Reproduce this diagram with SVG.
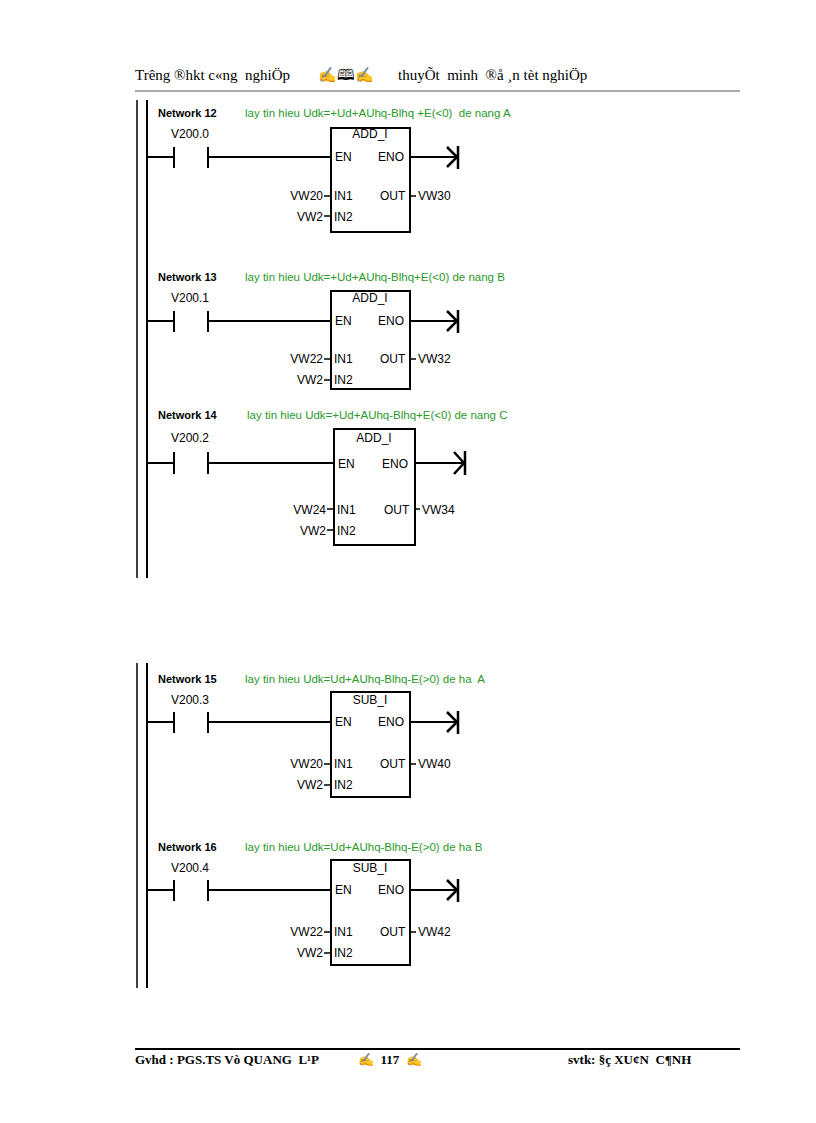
<svg xmlns="http://www.w3.org/2000/svg" width="816" height="1123" viewBox="0 0 816 1123">
<style>
.t{font-family:"Liberation Sans",Arial,sans-serif;font-size:12px;fill:#000}
.nw{font-family:"Liberation Sans",Arial,sans-serif;font-size:11px;font-weight:bold}
.cm{font-family:"Liberation Sans",Arial,sans-serif;font-size:11.5px;fill:#2a9a2a}
.hd{font-family:"Liberation Serif","Times New Roman",serif;font-size:15px}
.ft{font-family:"Liberation Serif","Times New Roman",serif;font-size:13px;font-weight:bold}
.w{stroke:#000;stroke-width:2;fill:none}
.a{stroke:#000;stroke-width:2.5;fill:none}
.b{stroke:#000;stroke-width:2;fill:#fff}
.s{stroke:#000;stroke-width:1.5}
</style>
<rect width="816" height="1123" fill="#fff"/>
<g id="header">
<text class="hd" x="135" y="80">Trêng</text>
<text class="hd" x="174" y="80" xml:space="preserve">®hkt c«ng  nghiÖp</text>
<text class="hd" x="318" y="80" font-size="13">✍🕮✍</text>
<text class="hd" x="398" y="80" xml:space="preserve">thuyÕt  minh  ®å ¸n tèt nghiÖp</text>
<line x1="135" y1="91" x2="740" y2="91" stroke="#555" stroke-width="1"/>
</g>
<g id="rails">
<line x1="137" y1="100" x2="137" y2="578" stroke="#000" stroke-width="1.5"/>
<line x1="147" y1="100" x2="147" y2="578" stroke="#000" stroke-width="2"/>
<line x1="137" y1="663" x2="137" y2="988" stroke="#000" stroke-width="1.5"/>
<line x1="147" y1="663" x2="147" y2="988" stroke="#000" stroke-width="2"/>
</g>
<g id="n12">
<text class="nw" x="158" y="117">Network 12</text>
<text class="cm" x="245" y="117" xml:space="preserve">lay tin hieu Udk=+Ud+AUhq-Blhq +E(&lt;0)  de nang A</text>
<text class="t" x="171" y="138">V200.0</text>
<rect class="b" x="331" y="128" width="79" height="104"/>
<text class="t" x="370" y="138" text-anchor="middle">ADD_I</text>
<text class="t" x="335" y="161">EN</text><text class="t" x="378" y="161">ENO</text>
<text class="t" x="334" y="200">IN1</text><text class="t" x="334" y="221">IN2</text>
<text class="t" x="380" y="200">OUT</text>
<text class="t" x="323" y="200" text-anchor="end">VW20</text>
<text class="t" x="323" y="221" text-anchor="end">VW2</text>
<text class="t" x="418" y="200">VW30</text>
</g>
<g id="n13">
<text class="nw" x="158" y="281">Network 13</text>
<text class="cm" x="245" y="281">lay tin hieu Udk=+Ud+AUhq-Blhq+E(&lt;0) de nang B</text>
<text class="t" x="171" y="302">V200.1</text>
<rect class="b" x="331" y="291" width="79" height="98"/>
<text class="t" x="370" y="302" text-anchor="middle">ADD_I</text>
<text class="t" x="335" y="325">EN</text><text class="t" x="378" y="325">ENO</text>
<text class="t" x="334" y="363">IN1</text><text class="t" x="334" y="384">IN2</text>
<text class="t" x="380" y="363">OUT</text>
<text class="t" x="323" y="363" text-anchor="end">VW22</text>
<text class="t" x="323" y="384" text-anchor="end">VW2</text>
<text class="t" x="418" y="363">VW32</text>
</g>
<g id="n14">
<text class="nw" x="158" y="419">Network 14</text>
<text class="cm" x="247" y="419">lay tin hieu Udk=+Ud+AUhq-Blhq+E(&lt;0) de nang C</text>
<text class="t" x="171" y="442">V200.2</text>
<rect class="b" x="334" y="429" width="81" height="116"/>
<text class="t" x="374" y="442" text-anchor="middle">ADD_I</text>
<text class="t" x="338" y="468">EN</text><text class="t" x="382" y="468">ENO</text>
<text class="t" x="337" y="514">IN1</text><text class="t" x="337" y="535">IN2</text>
<text class="t" x="384" y="514">OUT</text>
<text class="t" x="326" y="514" text-anchor="end">VW24</text>
<text class="t" x="326" y="535" text-anchor="end">VW2</text>
<text class="t" x="422" y="514">VW34</text>
</g>
<g id="n15">
<text class="nw" x="158" y="683">Network 15</text>
<text class="cm" x="245" y="683" xml:space="preserve">lay tin hieu Udk=Ud+AUhq-Blhq-E(&gt;0) de ha  A</text>
<text class="t" x="171" y="704">V200.3</text>
<rect class="b" x="331" y="692" width="79" height="105"/>
<text class="t" x="370" y="704" text-anchor="middle">SUB_I</text>
<text class="t" x="335" y="726">EN</text><text class="t" x="378" y="726">ENO</text>
<text class="t" x="334" y="768">IN1</text><text class="t" x="334" y="789">IN2</text>
<text class="t" x="380" y="768">OUT</text>
<text class="t" x="323" y="768" text-anchor="end">VW20</text>
<text class="t" x="323" y="789" text-anchor="end">VW2</text>
<text class="t" x="418" y="768">VW40</text>
</g>
<g id="n16">
<text class="nw" x="158" y="851">Network 16</text>
<text class="cm" x="245" y="851">lay tin hieu Udk=Ud+AUhq-Blhq-E(&gt;0) de ha B</text>
<text class="t" x="171" y="872">V200.4</text>
<rect class="b" x="331" y="860" width="79" height="105"/>
<text class="t" x="370" y="872" text-anchor="middle">SUB_I</text>
<text class="t" x="335" y="894">EN</text><text class="t" x="378" y="894">ENO</text>
<text class="t" x="334" y="936">IN1</text><text class="t" x="334" y="957">IN2</text>
<text class="t" x="380" y="936">OUT</text>
<text class="t" x="323" y="936" text-anchor="end">VW22</text>
<text class="t" x="323" y="957" text-anchor="end">VW2</text>
<text class="t" x="418" y="936">VW42</text>
</g>
<g id="connectors">
<path class="w" d="M147 157H174M174 147V168M208 147V168M208 157H331M410 157H457"/>
<path class="a" d="M447 147L457 157L447 167M458 146V169"/>
<path class="s" d="M324 196H331M324 216H331M410 196H416"/>
<path class="w" d="M147 321H174M174 311V332M208 311V332M208 321H331M410 321H457"/>
<path class="a" d="M447 311L457 321L447 331M458 310V333"/>
<path class="s" d="M324 359H331M324 380H331M410 359H416"/>
<path class="w" d="M147 463H174M174 452V474M208 452V474M208 463H334M415 463H464"/>
<path class="a" d="M454 452L464 463L454 474M465 451V475"/>
<path class="s" d="M327 509H334M327 530H334M415 509H420"/>
<path class="w" d="M147 722H174M174 712V733M208 712V733M208 722H331M410 722H457"/>
<path class="a" d="M447 712L457 722L447 732M458 711V734"/>
<path class="s" d="M324 764H331M324 785H331M410 764H416"/>
<path class="w" d="M147 890H174M174 880V901M208 880V901M208 890H331M410 890H457"/>
<path class="a" d="M447 880L457 890L447 900M458 879V902"/>
<path class="s" d="M324 932H331M324 953H331M410 932H416"/>
</g>
<g id="footer">
<line x1="135" y1="1049" x2="740" y2="1049" stroke="#000" stroke-width="2"/>
<text class="ft" x="135" y="1064" xml:space="preserve">Gvhd : PGS.TS Vò QUANG  L¹P</text>
<text class="ft" x="358" y="1064" xml:space="preserve">✍  117  ✍</text>
<text class="ft" x="568" y="1064" xml:space="preserve">svtk: §ç XU¢N  C¶NH</text>
</g>
</svg>
